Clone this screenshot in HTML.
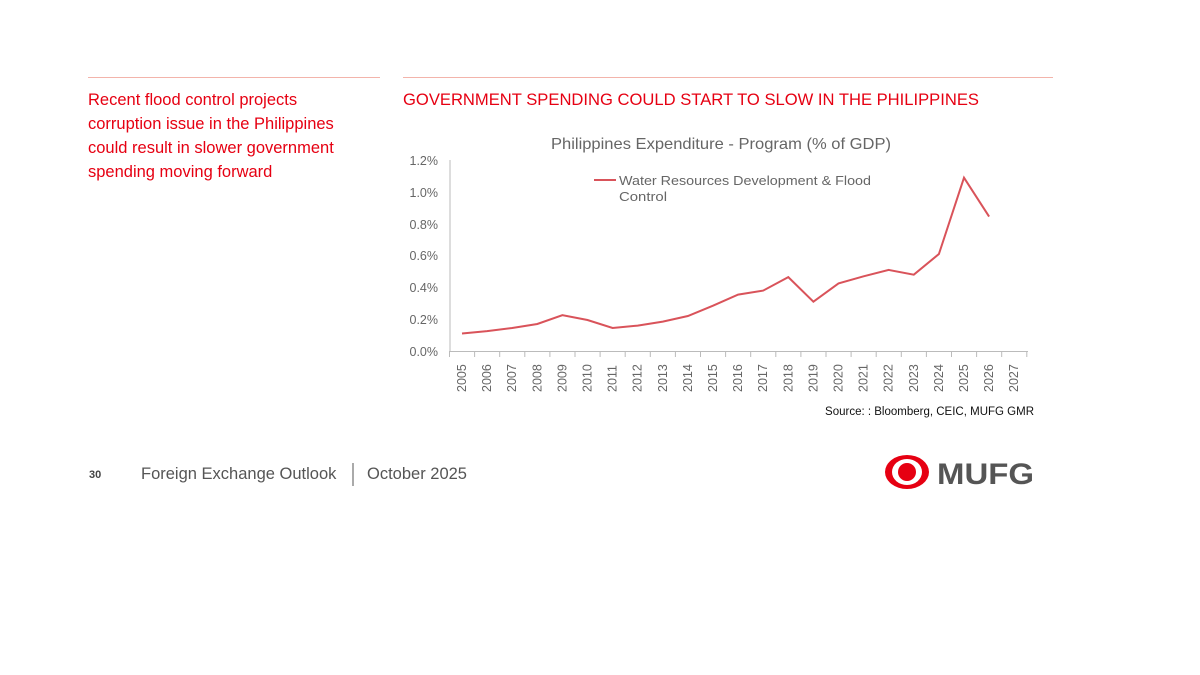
<!DOCTYPE html>
<html><head><meta charset="utf-8"><style>
body{margin:0;width:1200px;height:675px;background:#fff;position:relative;font-family:"Liberation Sans",Arial,sans-serif;overflow:hidden}
.a{position:absolute}
</style></head><body>
<div class="a" style="left:88px;top:77px;width:292px;height:1px;background:#f3b4ab"></div>
<div class="a" style="left:403px;top:77px;width:650px;height:1px;background:#f3b4ab"></div>
<div class="a" style="left:88px;top:88px;color:#e60012;font-size:16.5px;line-height:24px;width:272px">Recent flood control projects corruption issue in the Philippines could result in slower government spending moving forward</div>
<div class="a" style="left:403px;top:90px;color:#e60012;font-size:16.6px;white-space:nowrap">GOVERNMENT SPENDING COULD START TO SLOW IN THE PHILIPPINES</div>
<svg class="a" style="left:0;top:0" width="1200" height="675">
<text x="721" y="149" text-anchor="middle" font-size="16" fill="#666" textLength="340" lengthAdjust="spacingAndGlyphs">Philippines Expenditure - Program (% of GDP)</text>
<g font-size="12.5" fill="#666" text-anchor="end">
<text x="438" y="165">1.2%</text><text x="438" y="197">1.0%</text><text x="438" y="229">0.8%</text><text x="438" y="260">0.6%</text><text x="438" y="292">0.4%</text><text x="438" y="324">0.2%</text><text x="438" y="356">0.0%</text>
</g>
<line x1="450" y1="160" x2="450" y2="352" stroke="#bbb"/>
<line x1="450" y1="351.5" x2="1028" y2="351.5" stroke="#bbb"/>
<g stroke="#bbb">
<path d="M449.5 351v6M474.6 351v6M499.7 351v6M524.8 351v6M549.9 351v6M575 351v6M600.1 351v6M625.2 351v6M650.3 351v6M675.4 351v6M700.5 351v6M725.6 351v6M750.7 351v6M775.8 351v6M800.9 351v6M826 351v6M851.1 351v6M876.2 351v6M901.3 351v6M926.4 351v6M951.5 351v6M976.6 351v6M1001.7 351v6M1026.8 351v6"/>
</g>
<g font-size="12.5" fill="#666">
<text transform="translate(466,392) rotate(-90)">2005</text><text transform="translate(491.1,392) rotate(-90)">2006</text><text transform="translate(516.2,392) rotate(-90)">2007</text><text transform="translate(541.3,392) rotate(-90)">2008</text><text transform="translate(566.4,392) rotate(-90)">2009</text><text transform="translate(591.5,392) rotate(-90)">2010</text><text transform="translate(616.6,392) rotate(-90)">2011</text><text transform="translate(641.7,392) rotate(-90)">2012</text><text transform="translate(666.8,392) rotate(-90)">2013</text><text transform="translate(691.9,392) rotate(-90)">2014</text><text transform="translate(717,392) rotate(-90)">2015</text><text transform="translate(742.1,392) rotate(-90)">2016</text><text transform="translate(767.2,392) rotate(-90)">2017</text><text transform="translate(792.3,392) rotate(-90)">2018</text><text transform="translate(817.4,392) rotate(-90)">2019</text><text transform="translate(842.5,392) rotate(-90)">2020</text><text transform="translate(867.6,392) rotate(-90)">2021</text><text transform="translate(892.7,392) rotate(-90)">2022</text><text transform="translate(917.8,392) rotate(-90)">2023</text><text transform="translate(942.9,392) rotate(-90)">2024</text><text transform="translate(968,392) rotate(-90)">2025</text><text transform="translate(993.1,392) rotate(-90)">2026</text><text transform="translate(1018.2,392) rotate(-90)">2027</text>
</g>
<polyline fill="none" stroke="#d9535a" stroke-width="2" points="462,333.5 487.1,331.1 512.2,328 537.3,324 562.4,315.2 587.5,320 612.6,328 637.7,325.6 662.8,321.6 687.9,316 713,305.7 738.1,294.6 763.2,290.6 788.3,277.1 813.4,301.7 838.5,283.4 863.6,276.3 888.7,269.9 913.8,274.7 938.9,254 964,177.7 989.1,216.6"/>
<line x1="594" y1="180" x2="616" y2="180" stroke="#d9535a" stroke-width="2"/>
<text x="619" y="185" font-size="12.5" fill="#666" textLength="252" lengthAdjust="spacingAndGlyphs">Water Resources Development &amp; Flood</text>
<text x="619" y="201" font-size="12.5" fill="#666" textLength="48" lengthAdjust="spacingAndGlyphs">Control</text>
<text x="1034" y="415" text-anchor="end" font-size="11.5" fill="#111">Source: :  Bloomberg, CEIC, MUFG GMR</text>
<text x="89" y="478" font-size="11" font-weight="bold" fill="#444">30</text>
<text x="141" y="479" font-size="16.5" fill="#555">Foreign Exchange Outlook</text>
<line x1="353" y1="463" x2="353" y2="486" stroke="#555"/>
<text x="367" y="479" font-size="16.5" fill="#555">October 2025</text>
<ellipse cx="907" cy="472" rx="22" ry="17" fill="#e60012"/>
<ellipse cx="907" cy="472" rx="15" ry="13" fill="#fff"/>
<circle cx="907" cy="472" r="9" fill="#e60012"/>
<text x="937" y="484" font-size="30" font-weight="bold" fill="#555" textLength="97" lengthAdjust="spacingAndGlyphs">MUFG</text>
</svg>
</body></html>
